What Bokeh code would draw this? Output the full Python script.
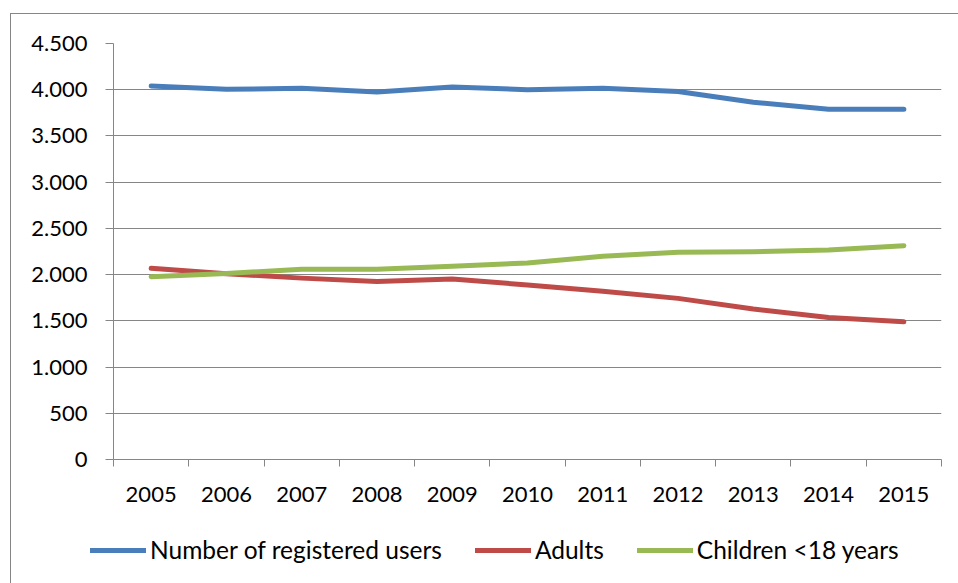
from bokeh.plotting import figure
from bokeh.layouts import column
from bokeh.models import ColumnDataSource, FixedTicker, Range1d, Legend, LegendItem
from bokeh.embed import file_html
from bokeh.resources import INLINE

# Registered library users per year
years = ["2005", "2006", "2007", "2008", "2009", "2010",
         "2011", "2012", "2013", "2014", "2015"]
registered_users = [4040, 4005, 4015, 3975, 4030, 4000, 4015, 3980, 3865, 3790, 3790]
adults = [2068, 2010, 1962, 1925, 1953, 1888, 1819, 1743, 1628, 1537, 1490]
children = [1978, 2012, 2057, 2057, 2090, 2126, 2198, 2241, 2248, 2266, 2313]

series_names = ["Number of registered users", "Adults", "Children <18 years"]
series_colors = ["#4A7EBB", "#BE4B48", "#98B954"]

y_ticks = [0, 500, 1000, 1500, 2000, 2500, 3000, 3500, 4000, 4500]
y_tick_labels = ["0", "500", "1.000", "1.500", "2.000", "2.500",
                 "3.000", "3.500", "4.000", "4.500"]

FONT = "Lato"
GRID = "#868686"
W, H = 958, 583
OX, OY = 11, 14          # content starts inside the chart-area border
H_LEGEND = 63
H_MAIN = H - OY - H_LEGEND

# each year sits in the middle of its own slot on a numeric axis
xpos = [i + 0.5 for i in range(len(years))]
src = ColumnDataSource(dict(x=xpos, users=registered_users, adults=adults, children=children))

p = figure(width=W - OX, height=H_MAIN, output_backend="svg", toolbar_location=None,
           x_range=Range1d(0, len(years)), y_range=Range1d(0, 4500),
           min_border_left=113 - OX, min_border_right=17, min_border_top=43 - OY,
           min_border_bottom=H_MAIN - (459 - OY))
p.frame_align = False
p.outline_line_color = None
p.background_fill_color = "white"
p.border_fill_color = "white"

# x axis: labels centred in each slot, tick marks on the slot boundaries
p.xaxis.ticker = FixedTicker(ticks=xpos, minor_ticks=list(range(len(years) + 1)))
p.xaxis.major_label_overrides = {x: y for x, y in zip(xpos, years)}
p.xaxis.major_tick_out = 0
p.xaxis.major_tick_in = 0
p.xaxis.minor_tick_in = 0
p.xaxis.minor_tick_out = 7
p.xaxis.minor_tick_line_color = GRID
p.xaxis.axis_line_color = GRID
p.xaxis.major_label_standoff = 20
p.xgrid.grid_line_color = None

# y axis
p.yaxis.ticker = FixedTicker(ticks=y_ticks)
p.yaxis.major_label_overrides = {v: s for v, s in zip(y_ticks, y_tick_labels)}
p.yaxis.major_tick_out = 8
p.yaxis.major_tick_in = 0
p.yaxis.minor_tick_line_color = None
p.yaxis.major_tick_line_color = GRID
p.yaxis.axis_line_color = GRID
p.yaxis.major_label_standoff = 18
p.ygrid.grid_line_color = GRID
p.ygrid.grid_line_width = 1.2

for ax in (p.xaxis, p.yaxis):
    ax.major_label_text_font = FONT
    ax.major_label_text_font_size = "22px"
    ax.major_label_text_color = "black"

lw = 5
for col, color in zip(["users", "adults", "children"], series_colors):
    p.line("x", col, source=src, line_color=color, line_width=lw,
           line_cap="round", line_join="round")

# legend strip underneath the chart; its key lines sit outside the visible range
lf = figure(width=W - OX, height=H_LEGEND, output_backend="svg", toolbar_location=None,
            x_range=Range1d(0, 1), y_range=Range1d(0, 1),
            x_axis_location=None, y_axis_location=None,
            min_border_left=0, min_border_right=0, min_border_top=0, min_border_bottom=0)
lf.frame_align = False
lf.outline_line_color = None
lf.grid.grid_line_color = None
lf.background_fill_color = "white"
lf.border_fill_color = "white"

items = []
for name, color in zip(series_names, series_colors):
    r = lf.line(x=[-3, -2], y=[-3, -3], line_color=color, line_width=lw, line_cap="round")
    items.append(LegendItem(label=name, renderers=[r]))

legend = Legend(items=items, orientation="horizontal", location=(90 - OX, 19),
                padding=0, margin=0, spacing=33, glyph_width=56, glyph_height=24,
                label_standoff=4, label_text_font=FONT, label_text_font_size="24.5px",
                label_text_color="black", border_line_color=None,
                background_fill_alpha=0)
lf.add_layout(legend, "center")

layout = column(p, lf, spacing=0, margin=(OY - 1, 0, 0, OX - 1),
                styles={"border-left": f"1px solid {GRID}",
                        "border-top": f"1px solid {GRID}"})

open("out.html", "w").write(file_html(layout, INLINE))
